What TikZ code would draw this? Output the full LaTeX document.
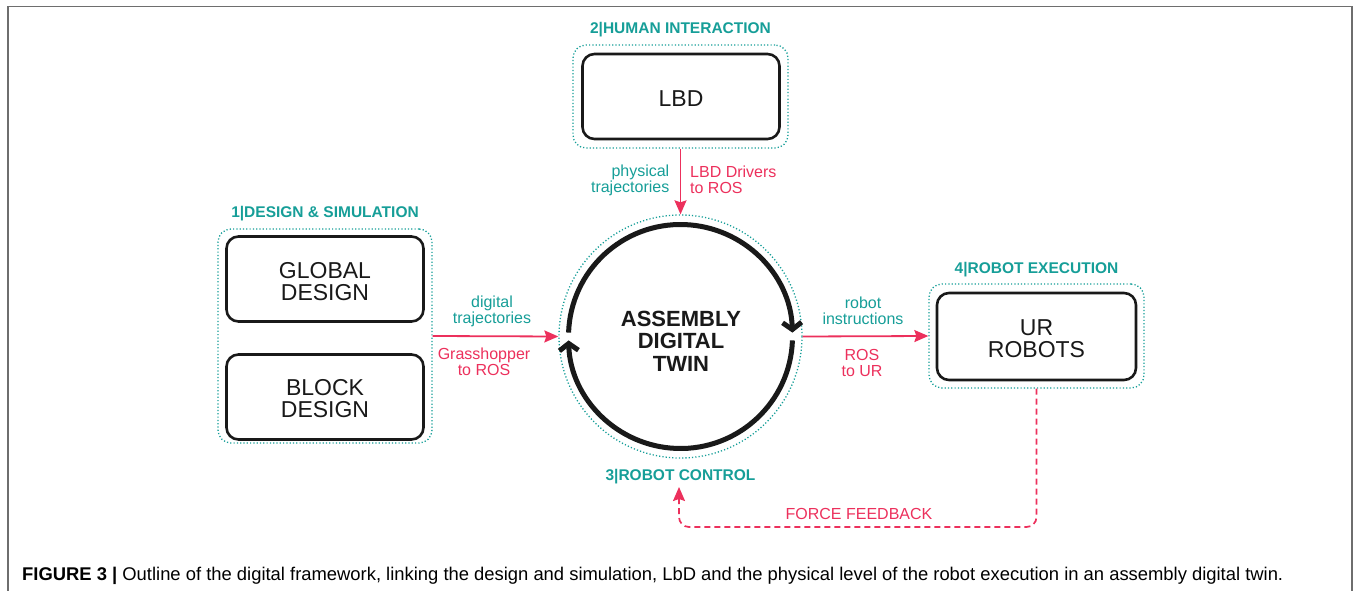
\documentclass[tikz,border=0pt]{standalone}
\usepackage{fontspec}
\setmainfont{Liberation Sans}
\usetikzlibrary{arrows.meta}
\definecolor{teal1}{RGB}{22,158,152}
\definecolor{pink1}{RGB}{236,48,92}
\definecolor{frame1}{RGB}{110,110,110}
\begin{document}
\begin{tikzpicture}[x=1pt,y=1pt,
  blackbox/.style={draw=black!90,line width=2.6pt,rounded corners=12pt,fill=white,minimum width=197pt,minimum height=85pt,inner sep=0pt},
  boxtext/.style={align=center,font=\fontsize{23}{22.5}\selectfont,inner sep=0pt,text=black!90},
  groupbox/.style={draw=teal1,line width=1.3pt,dash pattern=on 1.2pt off 2.1pt,rounded corners=13pt},
  grouplabel/.style={text=teal1,font=\fontsize{15.5}{16}\selectfont\bfseries,inner sep=0pt,anchor=base},
  tlabel/.style={text=teal1,font=\fontsize{16}{16}\selectfont,align=center,inner sep=0pt},
  plabel/.style={text=pink1,font=\fontsize{16}{16}\selectfont,align=center,inner sep=0pt},
  parrow/.style={draw=pink1,line width=1.8pt,-{Stealth[length=14pt,width=12pt,inset=2pt]}},
  cyclearrow/.style={draw=black!90,line width=5pt,-{Straight Barb[length=7pt,width=19pt]}}
]
\useasboundingbox (0,0) rectangle (1354,-591);
% frame
\draw[frame1,line width=1.6pt] (8,-591) -- (8,-6.5) -- (1352,-6.5) -- (1352,-591);

% group 1
\node[groupbox,minimum width=214pt,minimum height=214pt] (g1) at (325,-336) {};
\node[grouplabel] (l1) at (325,-217) {1|DESIGN \& SIMULATION};
\node[blackbox] (global) at (325,-279) {};
\node[boxtext] (globaltxt) at (325,-281.5) {GLOBAL\\DESIGN};
\node[blackbox] (block) at (325,-397) {};
\node[boxtext] (blocktxt) at (325,-398.5) {BLOCK\\DESIGN};

% group 2
\node[groupbox,minimum width=215pt,minimum height=103pt] (g2) at (680.5,-96.5) {};
\node[grouplabel] (l2) at (680.5,-34) {2|HUMAN INTERACTION};
\node[blackbox] (lbd) at (681,-96.5) {};
\node[boxtext] (lbdtxt) at (681,-98.5) {LBD};

% group 4
\node[groupbox,minimum width=215pt,minimum height=104pt] (g4) at (1036.5,-336) {};
\node[grouplabel] (l4) at (1036.5,-273) {4|ROBOT EXECUTION};
\node[blackbox,minimum width=199pt,minimum height=87pt] (ur) at (1036.5,-336.5) {};
\node[boxtext] (urtxt) at (1036.5,-338.5) {UR\\ROBOTS};

% digital twin
\node[draw=teal1,line width=1.3pt,dash pattern=on 1.2pt off 2.1pt,circle,minimum size=243pt,inner sep=0pt] (g3) at (680.5,-336.5) {};
\node[font=\fontsize{22}{22.5}\selectfont\bfseries,align=center,text=black!90] (twin) at (681,-341) {ASSEMBLY\\DIGITAL\\TWIN};
\coordinate (cc) at (680.5,-336.5);
\draw[cyclearrow] ([shift={(178:112)}]cc) arc[start angle=178,end angle=2,radius=112];
\draw[cyclearrow] ([shift={(-2:112)}]cc) arc[start angle=-2,end angle=-178,radius=112];
\node[grouplabel] (l3) at (680.5,-480.5) {3|ROBOT CONTROL};

% arrows
\draw[parrow] (g1.east) -- (g3.west);
\draw[parrow] (g3.east) -- (g4.west);
\draw[parrow] (g2.south) -- (g3.north);
\coordinate (fb1) at (1036.5,-527);
\coordinate (fb2) at (679,-527);
\coordinate (fbtip) at (679,-487);
\draw[draw=pink1,line width=1.7pt,dash pattern=on 6pt off 4pt,rounded corners=10pt,-{Stealth[length=14pt,width=12pt,inset=2pt]}]
  (g4.south) -- (fb1) -- (fb2) -- (fbtip);

% labels
\node[tlabel] (t1) at (492,-311) {digital\\trajectories};
\node[plabel] (p1) at (484,-362) {Grasshopper\\to ROS};
\node[tlabel] (t2) at (863,-311) {robot\\instructions};
\node[plabel] (p2) at (862,-363) {ROS\\to UR};
\node[tlabel,anchor=east,align=right] (t3) at (669.5,-180) {physical\\trajectories};
\node[plabel,anchor=west,align=left] (p3) at (690,-180) {LBD Drivers\\to ROS};
\node[text=pink1,font=\fontsize{16}{16}\selectfont,inner sep=0pt,anchor=base] (ff) at (859,-519) {FORCE FEEDBACK};

% caption
\node[anchor=base west,inner sep=0pt,font=\fontsize{18.4}{18}\selectfont] (cap) at (22,-580) {{\bfseries FIGURE 3 |} Outline of the digital framework, linking the design and simulation, LbD and the physical level of the robot execution in an assembly digital twin.};
\end{tikzpicture}
\end{document}
